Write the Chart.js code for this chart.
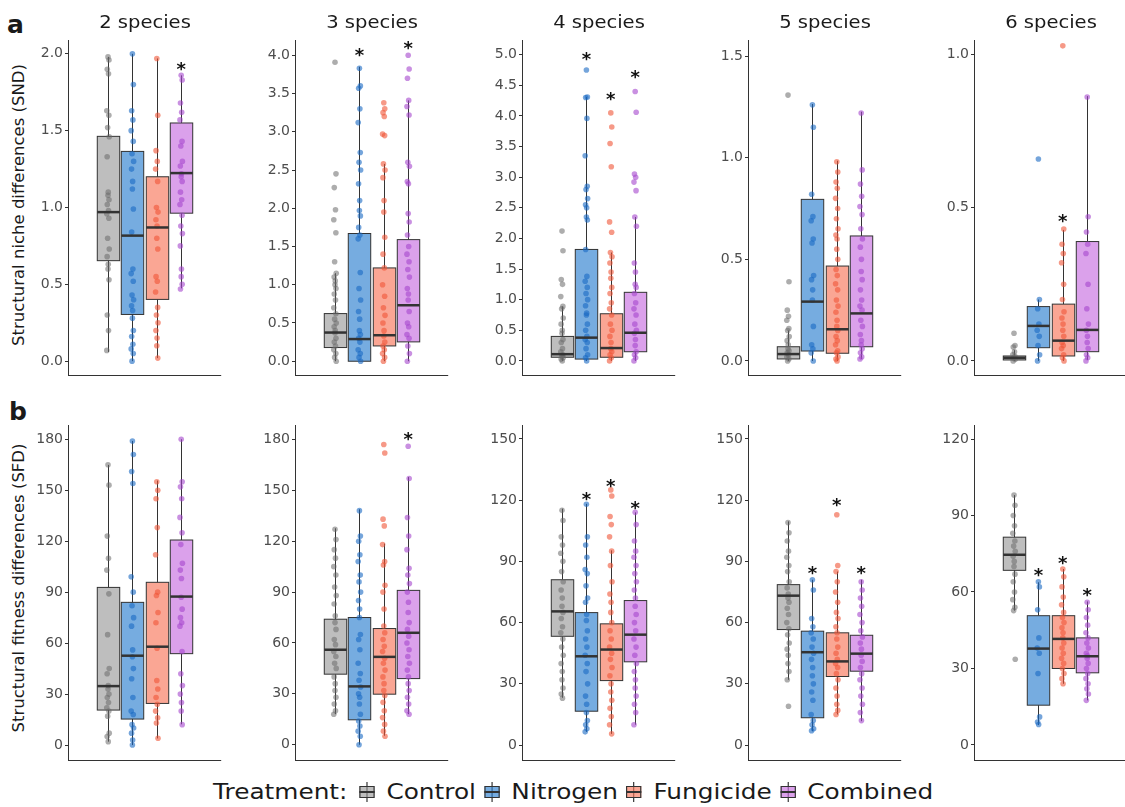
<!DOCTYPE html>
<html>
<head>
<meta charset="utf-8">
<script src="https://cdn.jsdelivr.net/npm/chart.js@4.4.1/dist/chart.umd.min.js"></script>
<style>
  body { margin: 0; background: #fff; width: 1125px; height: 807px; overflow: hidden; position: relative;
         font-family: "DejaVu Sans", sans-serif; color: #1a1a1a; }
  .panel { position: absolute; }
  .title { position: absolute; width: 200px; text-align: center; font-size: 17px; line-height: 17px; transform: scaleX(1.15); }
  .tag { position: absolute; font-weight: bold; font-size: 25px; line-height: 25px; }
  .ytitle { position: absolute; width: 360px; text-align: center; font-size: 16.5px; line-height: 20px; transform: rotate(-90deg); white-space: nowrap; }
  #legend { position: absolute; left: 213px; top: 780px; height: 24px; display: flex; align-items: center; font-size: 21px;
            transform: scaleX(1.18); transform-origin: left center; white-space: nowrap; }
  #legend .lab { margin-right: 7px; }
  #legend .lab.first { margin-right: 10px; }
  .key { position: relative; width: 13px; height: 20px; margin-right: 10px; }
  .key .wh { position: absolute; left: 6px; top: 0; width: 1px; height: 20px; background: #333; }
  .key .bx { position: absolute; left: 0; top: 4px; width: 11px; height: 10px; border: 1px solid #333; }
  .key .md { position: absolute; left: 0; top: 9px; width: 13px; height: 2px; background: #333; }
</style>
</head>
<body>
<div class="tag" style="left:7px; top:12px;">a</div>
<div class="tag" style="left:9px; top:399px;">b</div>
<div class="ytitle" style="left:-161px; top:195px;">Structural niche differences (SND)</div>
<div class="ytitle" style="left:-161px; top:578px;">Structural fitness differences (SFD)</div>
<div id="legend"></div>

<script>
const treatments = ['Control', 'Nitrogen', 'Fungicide', 'Combined'];
const speciesTitles = ['2 species', '3 species', '4 species', '5 species', '6 species'];

// tick labels
const sndTicks2 = [0, 0.5, 1, 1.5, 2];
const sndTicks3 = [0, 0.5, 1, 1.5, 2, 2.5, 3, 3.5, 4];
const sndTicks4 = [0, 0.5, 1, 1.5, 2, 2.5, 3, 3.5, 4, 4.5, 5];
const sndTicks5 = [0, 0.5, 1, 1.5];
const sndTicks6 = [0, 0.5, 1];
const sfdTicks180 = [0, 30, 60, 90, 120, 150, 180];
const sfdTicks150 = [0, 30, 60, 90, 120, 150];
const sfdTicks120 = [0, 30, 60, 90, 120];

// box statistics per treatment: [lower whisker, q1, median, q3, upper whisker]
const snd2Stats = [[0.06, 0.654, 0.97, 1.463, 1.98], [0, 0.304, 0.817, 1.365, 2.0], [0.02, 0.402, 0.87, 1.2, 1.97], [0.474, 0.963, 1.224, 1.55, 1.86]];
const snd3Stats = [[0, 0.179, 0.375, 0.623, 1.15], [0, 0, 0.29, 1.67, 3.85], [0, 0.2, 0.34, 1.22, 2.58], [0, 0.253, 0.732, 1.59, 3.41]];
const snd4Stats = [[0, 0.06, 0.11, 0.4, 0.89], [0, 0.03, 0.38, 1.82, 4.31], [0, 0.06, 0.21, 0.77, 1.77], [0, 0.15, 0.46, 1.12, 2.35]];
const snd5Stats = [[0, 0.01, 0.034, 0.07, 0.15], [0, 0.049, 0.292, 0.795, 1.264], [0, 0.038, 0.156, 0.467, 0.985], [0.01, 0.07, 0.234, 0.615, 1.226]];
const snd6Stats = [[0, 0.003, 0.01, 0.016, 0.035], [0, 0.043, 0.114, 0.177, 0.2], [0, 0.016, 0.066, 0.185, 0.427], [0.003, 0.03, 0.101, 0.389, 0.863]];
const sfd2Stats = [[2, 20.6, 34.7, 92.8, 164.9], [0, 15.3, 52.6, 84, 179], [3.9, 24.5, 57.9, 95.8, 155.7], [12.2, 53.8, 87.4, 120.7, 180]];
const sfd3Stats = [[18, 41.6, 56, 74, 127.6], [0, 14.7, 34.4, 75, 138.8], [5.3, 29.8, 51.8, 68.5, 118.6], [18, 39, 66, 91, 157.8]];
const sfd4Stats = [[23.2, 53.3, 65.5, 81, 115.8], [6.5, 16.6, 43.5, 64.9, 118.2], [5.5, 31.6, 46.8, 59.4, 95.4], [10, 40.8, 54.1, 70.8, 114]];
const sfd5Stats = [[32, 56.6, 73.2, 78.6, 109.6], [6.8, 13.4, 45.5, 55.8, 81], [15, 33.6, 41, 55, 85], [11.7, 36.2, 44.8, 53.8, 81]];
const sfd6Stats = [[52.7, 68.5, 74.6, 81.5, 98], [7.8, 15.6, 37.8, 50.7, 63.8], [24, 30, 41.6, 50.7, 69], [17.5, 28.3, 34.8, 42, 56.3]];

// individual observations per treatment
const snd2Points = [
  [1.98, 1.96, 1.90, 1.87, 1.63, 1.60, 1.52, 1.46, 1.33, 1.10, 1.08, 1.05, 1.02, 0.98, 0.96, 0.93, 0.80, 0.73, 0.68, 0.63, 0.60, 0.53, 0.30, 0.20, 0.07],
  [2.0, 1.8, 1.63, 1.57, 1.5, 1.43, 1.35, 1.3, 1.25, 1.17, 1.12, 0.99, 0.84, 0.6, 0.57, 0.52, 0.43, 0.4, 0.36, 0.33, 0.28, 0.2, 0.16, 0.11, 0.08, 0.05, 0.0],
  [1.97, 1.6, 1.37, 1.3, 1.25, 1.17, 1.0, 0.97, 0.92, 0.88, 0.8, 0.73, 0.55, 0.52, 0.45, 0.35, 0.3, 0.25, 0.2, 0.15, 0.1, 0.02],
  [1.86, 1.83, 1.68, 1.62, 1.57, 1.43, 1.4, 1.3, 1.27, 1.22, 1.2, 1.17, 1.1, 1.05, 1.02, 0.95, 0.88, 0.83, 0.75, 0.6, 0.55, 0.5, 0.47]
];
const snd3Points = [
  [3.91, 2.45, 2.27, 1.98, 1.85, 1.68, 1.3, 1.15, 1.1, 1.05, 1.0, 0.95, 0.88, 0.8, 0.7, 0.62, 0.55, 0.5, 0.45, 0.4, 0.37, 0.3, 0.25, 0.2, 0.15, 0.1, 0.05, 0.0],
  [3.83, 3.6, 3.57, 3.3, 3.12, 2.73, 2.6, 2.5, 2.32, 2.1, 1.97, 1.9, 1.75, 1.65, 1.6, 1.16, 0.95, 0.8, 0.65, 0.55, 0.4, 0.35, 0.3, 0.25, 0.15, 0.1, 0.05, 0.0],
  [3.38, 3.3, 3.25, 3.2, 2.97, 2.95, 2.58, 2.5, 2.4, 2.1, 1.95, 1.62, 1.4, 1.22, 1.0, 0.85, 0.7, 0.6, 0.5, 0.4, 0.33, 0.25, 0.2, 0.15, 0.1, 0.05, 0.0],
  [4.0, 3.82, 3.7, 3.41, 3.33, 3.22, 2.6, 2.55, 2.35, 2.32, 1.93, 1.82, 1.65, 1.5, 1.4, 1.3, 1.2, 1.1, 0.95, 0.88, 0.8, 0.65, 0.5, 0.45, 0.35, 0.3, 0.2, 0.1, 0.0]
];
const snd4Points = [
  [2.12, 1.8, 1.33, 1.25, 1.05, 0.89, 0.85, 0.7, 0.6, 0.5, 0.45, 0.35, 0.3, 0.2, 0.15, 0.1, 0.08, 0.05, 0.03, 0.0],
  [4.75, 4.31, 4.3, 3.96, 3.35, 2.85, 2.8, 2.65, 2.55, 2.5, 2.35, 2.3, 1.82, 1.38, 1.3, 1.2, 1.1, 1.0, 0.9, 0.78, 0.75, 0.6, 0.5, 0.4, 0.35, 0.3, 0.2, 0.1, 0.05, 0.0],
  [4.05, 3.82, 3.55, 3.17, 2.27, 2.1, 1.77, 1.7, 1.6, 1.45, 1.35, 1.2, 1.1, 0.95, 0.85, 0.75, 0.6, 0.5, 0.4, 0.3, 0.2, 0.15, 0.1, 0.05, 0.0],
  [4.4, 4.06, 3.05, 3.0, 2.92, 2.78, 2.35, 2.2, 1.6, 1.45, 1.25, 1.2, 1.1, 0.95, 0.85, 0.75, 0.6, 0.5, 0.45, 0.35, 0.25, 0.15, 0.1, 0.05, 0.0]
];
const snd5Points = [
  [1.308, 0.39, 0.25, 0.22, 0.2, 0.16, 0.15, 0.12, 0.1, 0.08, 0.06, 0.05, 0.04, 0.03, 0.02, 0.01, 0.0],
  [1.26, 1.15, 0.82, 0.71, 0.69, 0.6, 0.58, 0.42, 0.4, 0.35, 0.3, 0.17, 0.08, 0.06, 0.04, 0.0],
  [0.98, 0.93, 0.88, 0.85, 0.8, 0.75, 0.7, 0.65, 0.62, 0.6, 0.55, 0.5, 0.45, 0.42, 0.38, 0.35, 0.3, 0.27, 0.24, 0.2, 0.17, 0.15, 0.12, 0.1, 0.08, 0.05, 0.04, 0.02, 0.01, 0.0],
  [1.22, 0.94, 0.87, 0.81, 0.76, 0.72, 0.65, 0.6, 0.56, 0.5, 0.44, 0.4, 0.35, 0.3, 0.27, 0.25, 0.2, 0.17, 0.13, 0.1, 0.08, 0.06, 0.04, 0.02, 0.01]
];
const snd6Points = [
  [0.09, 0.05, 0.045, 0.03, 0.02, 0.015, 0.01, 0.005, 0.0],
  [0.658, 0.2, 0.17, 0.12, 0.1, 0.08, 0.05, 0.02, 0.0],
  [1.027, 0.43, 0.38, 0.35, 0.32, 0.25, 0.2, 0.16, 0.14, 0.12, 0.1, 0.08, 0.06, 0.05, 0.04, 0.02, 0.01, 0.0],
  [0.86, 0.47, 0.42, 0.38, 0.35, 0.25, 0.17, 0.12, 0.1, 0.08, 0.06, 0.04, 0.02, 0.01, 0.0]
];
const sfd2Points = [
  [165, 153, 123, 110, 103, 89, 65, 45, 42, 35, 33, 30, 28, 25, 22, 20, 17, 7, 5, 2],
  [179, 171, 161, 154, 99, 90, 82, 75, 70, 56, 52, 45, 39, 28, 20, 18, 12, 10, 7, 3, 0],
  [155, 150, 145, 128, 112, 90, 88, 78, 72, 57, 38, 33, 28, 24, 20, 16, 13, 4],
  [180, 155, 152, 145, 134, 125, 118, 107, 103, 98, 87, 80, 75, 72, 70, 55, 42, 35, 30, 25, 20, 12]
];
const sfd3Points = [
  [127, 121, 115, 110, 105, 100, 93, 88, 83, 76, 72, 68, 62, 59, 55, 52, 48, 45, 40, 36, 32, 28, 24, 20, 18],
  [138, 123, 120, 112, 108, 100, 96, 90, 85, 80, 75, 65, 62, 56, 48, 42, 38, 34, 30, 28, 24, 18, 14, 11, 8, 5, 0],
  [177, 172, 133, 129, 118, 108, 106, 94, 90, 80, 70, 66, 62, 58, 55, 51, 48, 44, 40, 36, 32, 29, 25, 20, 16, 12, 8, 5],
  [176, 157, 134, 123, 115, 104, 100, 95, 90, 84, 78, 72, 68, 64, 60, 56, 52, 48, 44, 40, 36, 32, 28, 24, 20, 18]
];
const sfd4Points = [
  [115, 110, 102, 98, 94, 90, 85, 80, 76, 72, 68, 65, 62, 58, 55, 52, 48, 44, 40, 36, 32, 28, 25, 23],
  [118, 102, 98, 92, 86, 84, 78, 72, 70, 64, 61, 56, 52, 48, 44, 40, 36, 30, 24, 20, 16, 12, 10, 8, 6.5],
  [125, 122, 112, 108, 102, 95, 88, 80, 74, 70, 65, 60, 56, 52, 48, 45, 42, 38, 34, 30, 26, 22, 18, 14, 10, 5.5],
  [114, 108, 100, 95, 92, 88, 84, 80, 76, 72, 68, 64, 60, 56, 52, 48, 44, 40, 36, 32, 28, 24, 20, 16, 10]
];
const sfd5Points = [
  [109, 104, 100, 95, 92, 88, 85, 80, 77, 74, 72, 70, 67, 64, 60, 57, 54, 50, 47, 44, 40, 36, 32, 19],
  [81, 76, 62, 58, 55, 52, 48, 45, 42, 38, 34, 30, 26, 22, 15, 12, 10, 8, 7],
  [112.8, 88, 85, 80, 75, 70, 65, 62, 58, 55, 52, 48, 45, 42, 40, 38, 35, 32, 28, 24, 20, 17, 15],
  [80, 76, 72, 68, 64, 60, 56, 53, 50, 47, 44, 41, 38, 35, 32, 28, 24, 20, 16, 12]
];
const sfd6Points = [
  [98, 94, 90, 86, 83, 80, 78, 76, 74, 72, 70, 67, 64, 60, 57, 54, 52.7, 33.6],
  [64, 62, 53, 42, 38, 36, 28, 11, 9, 8],
  [69, 66, 62, 58, 55, 52, 50, 48, 46, 44, 42, 40, 38, 36, 34, 32, 30, 28, 26, 24],
  [56, 53, 50, 47, 44, 42, 40, 38, 36, 35, 34, 32, 30, 28, 26, 24, 22, 20, 17.5]
];

// heights of significance stars (null = none)
const snd2Stars = [null, null, null, 1.93];
const snd3Stars = [null, 4.06, null, 4.15];
const snd4Stars = [null, 5.0, 4.35, 4.71];
const snd5Stars = [null, null, null, null];
const snd6Stars = [null, null, 0.47, null];
const sfd2Stars = [null, null, null, null];
const sfd3Stars = [null, null, null, 183];
const sfd4Stars = [null, 122.6, 129, 118.5];
const sfd5Stars = [null, 86.7, 120, 86.4];
const sfd6Stars = [null, 68.3, 73.3, 60.6];

// y axis limits
const snd2Range = [-0.09, 2.09];
const snd3Range = [-0.18, 4.2];
const snd4Range = [-0.23, 5.24];
const snd5Range = [-0.069, 1.579];
const snd6Range = [-0.046, 1.046];
const sfd2Range = [-8.8, 188.4];
const sfd3Range = [-9, 188.5];
const sfd4Range = [-7.3, 156.8];
const sfd5Range = [-7.3, 156.8];
const sfd6Range = [-5.9, 125.5];

const boxColors = ['rgba(150,150,150,0.62)', 'rgba(44,127,208,0.65)', 'rgba(248,118,90,0.65)', 'rgba(200,110,225,0.65)'];
const dotColors = ['rgba(105,105,105,0.55)', 'rgba(25,105,195,0.6)', 'rgba(240,85,55,0.6)', 'rgba(165,70,205,0.6)'];
const dodge = [-1.5, -0.5, 0.5, 1.5];
const jitter = [0, 0.04, -0.03, 0.02, -0.05, 0.035, -0.015, 0.05, -0.035, 0.01];

const colX = [68, 295, 522, 748, 974];
const rowTop = [40, 425];
const plotW = 154, plotH = 335, axisW = 48;

const panels = [
  { row: 0, col: 0, stats: snd2Stats, points: snd2Points, stars: snd2Stars, ticks: sndTicks2, range: snd2Range, digits: 1 },
  { row: 0, col: 1, stats: snd3Stats, points: snd3Points, stars: snd3Stars, ticks: sndTicks3, range: snd3Range, digits: 1 },
  { row: 0, col: 2, stats: snd4Stats, points: snd4Points, stars: snd4Stars, ticks: sndTicks4, range: snd4Range, digits: 1 },
  { row: 0, col: 3, stats: snd5Stats, points: snd5Points, stars: snd5Stars, ticks: sndTicks5, range: snd5Range, digits: 1 },
  { row: 0, col: 4, stats: snd6Stats, points: snd6Points, stars: snd6Stars, ticks: sndTicks6, range: snd6Range, digits: 1 },
  { row: 1, col: 0, stats: sfd2Stats, points: sfd2Points, stars: sfd2Stars, ticks: sfdTicks180, range: sfd2Range, digits: 0 },
  { row: 1, col: 1, stats: sfd3Stats, points: sfd3Points, stars: sfd3Stars, ticks: sfdTicks180, range: sfd3Range, digits: 0 },
  { row: 1, col: 2, stats: sfd4Stats, points: sfd4Points, stars: sfd4Stars, ticks: sfdTicks150, range: sfd4Range, digits: 0 },
  { row: 1, col: 3, stats: sfd5Stats, points: sfd5Points, stars: sfd5Stars, ticks: sfdTicks150, range: sfd5Range, digits: 0 },
  { row: 1, col: 4, stats: sfd6Stats, points: sfd6Points, stars: sfd6Stars, ticks: sfdTicks120, range: sfd6Range, digits: 0 }
];

Chart.defaults.font.family = '"DejaVu Sans", sans-serif';

// boxes, whiskers, medians, x axis line and stars for one panel
function boxplot(p) {
  return {
    id: 'boxplot',
    beforeDatasetsDraw(chart) {
      const { ctx, scales: { x, y } } = chart;
      ctx.save();
      ctx.strokeStyle = '#333';
      ctx.lineWidth = 1;
      p.stats.forEach((s, g) => {
        const cx = Math.round(x.getPixelForValue(dodge[g])) + 0.5;
        const half = x.getPixelForValue(dodge[g] + 0.46) - x.getPixelForValue(dodge[g]);
        const [lo, q1, , q3, hi] = s.map(v => y.getPixelForValue(v));
        ctx.beginPath();
        ctx.moveTo(cx, hi); ctx.lineTo(cx, q3);
        ctx.moveTo(cx, q1); ctx.lineTo(cx, lo);
        ctx.stroke();
        ctx.fillStyle = boxColors[g];
        ctx.fillRect(cx - half, q3, 2 * half, q1 - q3);
        ctx.strokeRect(cx - half, q3, 2 * half, q1 - q3);
      });
      ctx.restore();
    },
    afterDatasetsDraw(chart) {
      const { ctx, chartArea, scales: { x, y } } = chart;
      ctx.save();
      ctx.strokeStyle = '#333';
      ctx.lineWidth = 2.5;
      p.stats.forEach((s, g) => {
        const cx = Math.round(x.getPixelForValue(dodge[g])) + 0.5;
        const half = x.getPixelForValue(dodge[g] + 0.46) - x.getPixelForValue(dodge[g]);
        const m = y.getPixelForValue(s[2]);
        ctx.beginPath();
        ctx.moveTo(cx - half, m); ctx.lineTo(cx + half, m);
        ctx.stroke();
      });
      ctx.lineWidth = 1;
      ctx.beginPath();
      ctx.moveTo(chartArea.left, Math.round(chartArea.bottom) + 0.5);
      ctx.lineTo(chartArea.right, Math.round(chartArea.bottom) + 0.5);
      ctx.stroke();
      ctx.fillStyle = '#111';
      ctx.font = 'bold 18px "DejaVu Sans"';
      ctx.textAlign = 'center';
      ctx.textBaseline = 'alphabetic';
      p.stars.forEach((v, g) => {
        if (v === null) return;
        ctx.fillText('*', x.getPixelForValue(dodge[g]), y.getPixelForValue(v) + 10.5);
      });
      ctx.restore();
    }
  };
}

panels.forEach(p => {
  const wrap = document.createElement('div');
  wrap.className = 'panel';
  wrap.style.left = (colX[p.col] - axisW) + 'px';
  wrap.style.top = (rowTop[p.row] - 12) + 'px';
  wrap.style.width = (axisW + plotW + 2) + 'px';
  wrap.style.height = (plotH + 16) + 'px';
  const canvas = document.createElement('canvas');
  wrap.appendChild(canvas);
  document.body.appendChild(wrap);

  if (p.row === 0) {
    const t = document.createElement('div');
    t.className = 'title';
    t.textContent = speciesTitles[p.col];
    t.style.left = (colX[p.col] + plotW / 2 - 100) + 'px';
    t.style.top = '14px';
    document.body.appendChild(t);
  }

  new Chart(canvas, {
    type: 'scatter',
    data: {
      datasets: p.points.map((vals, g) => ({
        label: treatments[g],
        data: vals.map((v, i) => ({ x: dodge[g] + jitter[i % jitter.length], y: v })),
        pointRadius: 2.8,
        pointHoverRadius: 2.8,
        pointBackgroundColor: dotColors[g],
        pointBorderWidth: 0
      }))
    },
    options: {
      responsive: true,
      maintainAspectRatio: false,
      animation: false,
      events: [],
      layout: { padding: { top: 12, bottom: 4, left: 0, right: 2 } },
      plugins: { legend: { display: false }, tooltip: { enabled: false } },
      scales: {
        x: { type: 'linear', min: -3.14, max: 3.14, display: false },
        y: {
          min: p.range[0],
          max: p.range[1],
          afterBuildTicks: s => { s.ticks = p.ticks.map(v => ({ value: v })); },
          afterFit: s => { s.width = axisW; s.paddingTop = 0; s.paddingBottom = 0; },
          ticks: {
            color: '#4d4d4d',
            font: { size: 14 },
            padding: 2,
            callback: v => v.toFixed(p.digits)
          },
          grid: { drawOnChartArea: false, tickLength: 3, color: '#333', lineWidth: 1 },
          border: { color: '#333', width: 1 }
        }
      }
    },
    plugins: [boxplot(p)]
  });
});

// shared legend
const legend = document.getElementById('legend');
const head = document.createElement('span');
head.className = 'lab first';
head.textContent = 'Treatment:';
legend.appendChild(head);
treatments.forEach((name, g) => {
  const key = document.createElement('span');
  key.className = 'key';
  key.innerHTML = '<span class="wh"></span><span class="bx"></span><span class="md"></span>';
  key.querySelector('.bx').style.background = boxColors[g];
  legend.appendChild(key);
  const lab = document.createElement('span');
  lab.className = 'lab';
  lab.textContent = name;
  legend.appendChild(lab);
});
</script>
</body>
</html>
